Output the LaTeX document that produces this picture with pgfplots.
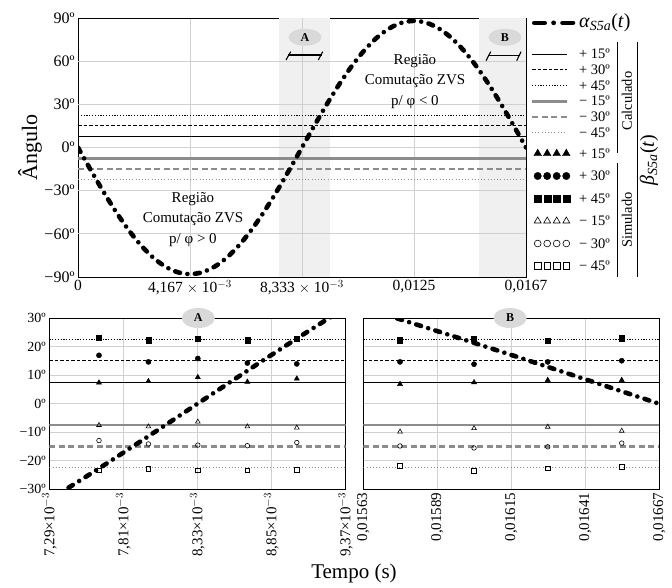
\documentclass[border=0pt]{standalone}
\usepackage{pgfplots}
\usepackage{pgfplotstable}
\pgfplotsset{compat=1.18}
\usetikzlibrary{shapes.geometric}
\usepackage{fontspec}
\setmainfont{Liberation Serif}

\definecolor{gridc}{RGB}{208,208,208}
\definecolor{shadec}{RGB}{240,240,240}
\definecolor{lgray}{RGB}{140,140,140}
\definecolor{ellc}{RGB}{217,217,217}

\pgfplotstableread{
t a
0 0
0.000463 -15.28
0.000926 -30.10
0.001389 -44.00
0.001852 -56.57
0.002315 -67.41
0.002778 -76.21
0.003241 -82.69
0.003704 -86.66
0.004167 -88.00
0.004630 -86.66
0.005093 -82.69
0.005556 -76.21
0.006019 -67.41
0.006481 -56.57
0.006944 -44.00
0.007407 -30.10
0.007870 -15.28
0.008333 0
0.008796 15.28
0.009259 30.10
0.009722 44.00
0.010185 56.57
0.010648 67.41
0.011111 76.21
0.011574 82.69
0.012037 86.66
0.012500 88.00
0.012963 86.66
0.013426 82.69
0.013889 76.21
0.014352 67.41
0.014815 56.57
0.015278 44.00
0.015741 30.10
0.016204 15.28
0.016667 0
}\alphamain

\pgfplotstableread{
t a
0.006944 -44.00
0.007176 -37.19
0.007407 -30.10
0.007639 -22.78
0.007870 -15.28
0.008102 -7.67
0.008333 0
0.008565 7.67
0.008796 15.28
0.009028 22.78
0.009259 30.10
0.009491 37.19
0.009722 44.00
}\alphaA

\pgfplotstableread{
t a
0.015278 44.00
0.015509 37.19
0.015741 30.10
0.015972 22.78
0.016204 15.28
0.016435 7.67
0.016667 0
}\alphaB

\pgfplotstableread{
t p15 p30 p45 m15 m30 m45
0.007639 7.3 16.9 23.0 -7.6 -13.0 -23.5
0.007986 7.8 14.6 22.2 -8.1 -14.2 -23.0
0.008333 9.2 15.8 22.6 -6.4 -14.6 -23.4
0.008681 7.6 14.2 22.2 -8.1 -14.8 -23.4
0.009028 8.7 13.9 22.6 -8.5 -13.7 -23.2
}\simA

\pgfplotstableread{
t p15 p30 p45 m15 m30 m45
0.015759 6.8 14.6 22.2 -9.9 -14.9 -21.9
0.016019 7.4 13.8 22.6 -8.7 -15.6 -23.6
0.016278 8.2 14.6 22.1 -8.2 -15.2 -22.7
0.016538 8.2 15.0 22.9 -9.6 -13.9 -22.2
}\simB

\pgfplotsset{
  alphast/.style={black, line width=4.6pt, line cap=round, dash pattern=on 5pt off 7.5pt on 0pt off 7.5pt},
  cpA/.style={black, line width=1.1pt},
  cpB/.style={black, line width=1.1pt, dash pattern=on 3.5pt off 2pt},
  cpC/.style={black, line width=1.1pt, dash pattern=on 1.2pt off 1.6pt},
  cmA/.style={lgray, line width=2.6pt},
  cmB/.style={lgray, line width=2.6pt, dash pattern=on 6pt off 3.5pt},
  cmC/.style={lgray, line width=0.8pt, dash pattern=on 1pt off 2.2pt},
  sp15/.style={only marks, mark=triangle*, mark size=3pt, mark options={solid, fill=black, draw=black, line width=0.4pt}},
  sp30/.style={only marks, mark=*, mark size=2.6pt, mark options={solid, fill=black, draw=black, line width=0.4pt}},
  sp45/.style={only marks, mark=square*, mark size=2.6pt, mark options={solid, fill=black, draw=black, line width=0.4pt}},
  sm15/.style={only marks, mark=triangle, mark size=2.7pt, mark options={solid, fill=white, draw=black, line width=0.6pt}},
  sm30/.style={only marks, mark=o, mark size=2.3pt, mark options={solid, fill=white, draw=black, line width=0.6pt}},
  sm45/.style={only marks, mark=square, mark size=2.3pt, mark options={solid, fill=white, draw=black, line width=0.6pt}},
  blankimg/.style={legend image code/.code={\path[draw=none, fill=none] (0pt,-1pt) rectangle (35pt,1pt);}},
  lineimg/.style={legend image code/.code={\path[draw=none, fill=none] (0pt,-1pt) rectangle (35pt,1pt); \draw[##1, overlay] (0pt,0pt) -- (35pt,0pt);}},
  markimg/.style={legend image code/.code={\path[draw=none, fill=none] (0pt,-1pt) rectangle (35pt,1pt); \draw[##1, overlay, draw=none] plot coordinates {(5.7pt,0pt) (15.2pt,0pt) (24.7pt,0pt) (34.3pt,0pt)};}},
  alphaimg/.style={legend image code/.code={\path[draw=none, fill=none] (0pt,-1pt) rectangle (35pt,1pt);
      \draw[black, line width=4.6pt, line cap=round, overlay] (2.3pt,0pt) -- (12.7pt,0pt);
      \fill[black, draw=none, overlay] (21.6pt,0pt) circle (2.4pt);
      \draw[black, line width=4.6pt, line cap=round, overlay] (30.5pt,0pt) -- (41pt,0pt);}},
  common/.style={
    scale only axis,
    grid=major, major grid style={gridc, line width=0.8pt},
    major tick length=0pt,
    axis line style={black, line width=0.9pt},
    scaled x ticks=false, scaled y ticks=false,
  },
}

\begin{document}
\begin{tikzpicture}
\useasboundingbox (0pt,0pt) rectangle (672pt,587pt);

% ===== main axis =====
\begin{axis}[common,
  at={(78pt,310pt)}, anchor=south west,
  width=448pt, height=259pt,
  xmin=0, xmax=0.016667, ymin=-90, ymax=90,
  xtick={0,0.0041667,0.0083333,0.0125,0.016667},
  xticklabels={0,{4,167 $\times$ 10$^{-3}$},{8,333 $\times$ 10$^{-3}$},{0,0125},{0,0167}},
  ytick={-90,-60,...,90},
  yticklabels={−90º,−60º,−30º,0º,30º,60º,90º},
  xticklabel style={font=\fontsize{15.5}{15.5}\selectfont},
  yticklabel style={font=\fontsize{16}{16}\selectfont},
  ylabel={Ângulo},
  ylabel style={at={(axis description cs:-0.107,0.5)}, anchor=center, font=\fontsize{22}{22}\selectfont},
  legend style={at={(axis description cs:1.01339,1.01157)}, anchor=north west, draw=none, fill=none,
    inner sep=0pt, outer sep=0pt, column sep=12pt, row sep=0pt,
    nodes={inner sep=0pt, text height=12.5pt, text depth=3.2pt, font=\fontsize{14.5}{14.5}\selectfont}},
  legend cell align=left,
]
\addplot[fill=shadec, draw=none, forget plot] coordinates {(0.007489,-90) (0.009375,-90) (0.009375,90) (0.007489,90)} -- cycle;
\addplot[fill=shadec, draw=none, forget plot] coordinates {(0.014930,-90) (0.016667,-90) (0.016667,90) (0.014930,90)} -- cycle;
% grid lines redrawn over the shading
\addplot[gridc, line width=0.8pt, forget plot] coordinates {(0.0083333,-90) (0.0083333,90)};
\addplot[gridc, line width=0.8pt, forget plot] coordinates {(0,60) (0.016667,60)};
\addplot[gridc, line width=0.8pt, forget plot] coordinates {(0,30) (0.016667,30)};
\addplot[gridc, line width=0.8pt, forget plot] coordinates {(0,0) (0.016667,0)};
\addplot[gridc, line width=0.8pt, forget plot] coordinates {(0,-30) (0.016667,-30)};
\addplot[gridc, line width=0.8pt, forget plot] coordinates {(0,-60) (0.016667,-60)};
\addplot[cpC, forget plot] coordinates {(0,22.5) (0.016667,22.5)};
\addplot[cpB, forget plot] coordinates {(0,15) (0.016667,15)};
\addplot[cpA, forget plot] coordinates {(0,7.5) (0.016667,7.5)};
\addplot[cmA, forget plot] coordinates {(0,-7.5) (0.016667,-7.5)};
\addplot[cmB, forget plot] coordinates {(0,-15) (0.016667,-15)};
\addplot[cmC, forget plot] coordinates {(0,-22.5) (0.016667,-22.5)};
\addplot[alphast, smooth, forget plot] table[x=t, y=a] {\alphamain};

\node[align=center, font=\fontsize{15}{20.5}\selectfont] at (axis cs:0.004278,-50) {Região\\Comutação ZVS\\p/ φ > 0};
\node[align=center, font=\fontsize{15}{20.5}\selectfont] at (axis cs:0.012537,46) {Região\\Comutação ZVS\\p/ φ < 0};
\node[ellipse, fill=ellc, minimum width=33pt, minimum height=17pt, inner sep=0pt, font=\bfseries\fontsize{12}{12}\selectfont] at (axis cs:0.008445,76.6) {A};
\node[ellipse, fill=ellc, minimum width=33pt, minimum height=17pt, inner sep=0pt, font=\bfseries\fontsize{12}{12}\selectfont] at (axis cs:0.015885,76.6) {B};

\addlegendimage{alphaimg}
\addlegendentry{\fontsize{20}{20}\selectfont\textit{α}\textsubscript{\textit{S5a}}(\textit{t})}
\addlegendimage{blankimg}
\addlegendentry{\phantom{x}}
\addlegendimage{cpA, lineimg}\addlegendentry{+ 15º}
\addlegendimage{cpB, lineimg}\addlegendentry{+ 30º}
\addlegendimage{cpC, lineimg}\addlegendentry{+ 45º}
\addlegendimage{cmA, lineimg}\addlegendentry{− 15º}
\addlegendimage{cmB, lineimg}\addlegendentry{− 30º}
\addlegendimage{cmC, lineimg}\addlegendentry{− 45º}
\end{axis}

% ===== inset A =====
\begin{axis}[common,
  at={(49.3pt,98pt)}, anchor=south west,
  width=296.2pt, height=171pt,
  xmin=0.00729, xmax=0.00937, ymin=-30, ymax=30,
  xtick={0.00729,0.00781,0.00833,0.00885,0.00937},
  xticklabels={{7,29×10$^{-3}$},{7,81×10$^{-3}$},{8,33×10$^{-3}$},{8,85×10$^{-3}$},{9,37×10$^{-3}$}},
  xticklabel style={rotate=90, anchor=east, font=\fontsize{15}{15}\selectfont},
  ytick={-30,-20,...,30},
  yticklabels={−30º,−20º,−10º,0º,10º,20º,30º},
  yticklabel style={font=\fontsize{14}{14}\selectfont},
]
\addplot[cpC, forget plot] coordinates {(0.00729,22.5) (0.00937,22.5)};
\addplot[cpB, forget plot] coordinates {(0.00729,15) (0.00937,15)};
\addplot[cpA, forget plot] coordinates {(0.00729,7.5) (0.00937,7.5)};
\addplot[cmA, forget plot] coordinates {(0.00729,-7.5) (0.00937,-7.5)};
\addplot[cmB, forget plot] coordinates {(0.00729,-15) (0.00937,-15)};
\addplot[cmC, forget plot] coordinates {(0.00729,-22.5) (0.00937,-22.5)};
\addplot[sp15, forget plot] table[x=t, y=p15] {\simA};
\addplot[sp30, forget plot] table[x=t, y=p30] {\simA};
\addplot[sp45, forget plot] table[x=t, y=p45] {\simA};
\addplot[sm15, forget plot] table[x=t, y=m15] {\simA};
\addplot[sm30, forget plot] table[x=t, y=m30] {\simA};
\addplot[sm45, forget plot] table[x=t, y=m45] {\simA};
\addplot[alphast, smooth, forget plot] table[x=t, y=a] {\alphaA};
\end{axis}

% ===== inset B =====
\begin{axis}[common,
  at={(363.3pt,98pt)}, anchor=south west,
  width=296pt, height=171pt,
  xmin=0.01563, xmax=0.01667, ymin=-30, ymax=30,
  xtick={0.01563,0.01589,0.01615,0.01641,0.01667},
  xticklabels={{0,01563},{0,01589},{0,01615},{0,01641},{0,01667}},
  xticklabel style={rotate=90, anchor=east, font=\fontsize{15}{15}\selectfont},
  ytick={-30,-20,...,30},
  yticklabels={},
  legend style={at={(axis description cs:0.56993,2.00789)}, anchor=north west, draw=none, fill=none,
    inner sep=0pt, outer sep=0pt, column sep=12pt, row sep=6.8pt,
    nodes={inner sep=0pt, text height=12.5pt, text depth=3.2pt, font=\fontsize{14.5}{14.5}\selectfont}},
  legend cell align=left,
]
\addplot[cpC, forget plot] coordinates {(0.01563,22.5) (0.01667,22.5)};
\addplot[cpB, forget plot] coordinates {(0.01563,15) (0.01667,15)};
\addplot[cpA, forget plot] coordinates {(0.01563,7.5) (0.01667,7.5)};
\addplot[cmA, forget plot] coordinates {(0.01563,-7.5) (0.01667,-7.5)};
\addplot[cmB, forget plot] coordinates {(0.01563,-15) (0.01667,-15)};
\addplot[cmC, forget plot] coordinates {(0.01563,-22.5) (0.01667,-22.5)};
\addplot[sp15, forget plot] table[x=t, y=p15] {\simB};
\addplot[sp30, forget plot] table[x=t, y=p30] {\simB};
\addplot[sp45, forget plot] table[x=t, y=p45] {\simB};
\addplot[sm15, forget plot] table[x=t, y=m15] {\simB};
\addplot[sm30, forget plot] table[x=t, y=m30] {\simB};
\addplot[sm45, forget plot] table[x=t, y=m45] {\simB};
\addplot[alphast, smooth, forget plot] table[x=t, y=a] {\alphaB};

\addlegendimage{sp15, mark size=4.4pt, markimg}\addlegendentry{+ 15º}
\addlegendimage{sp30, mark size=3.7pt, markimg}\addlegendentry{+ 30º}
\addlegendimage{sp45, mark size=3.5pt, markimg}\addlegendentry{+ 45º}
\addlegendimage{sm15, mark size=4.0pt, markimg}\addlegendentry{− 15º}
\addlegendimage{sm30, mark size=3.4pt, markimg}\addlegendentry{− 30º}
\addlegendimage{sm45, mark size=3.3pt, markimg}\addlegendentry{− 45º}
\end{axis}

% ===== decorations =====
\node[ellipse, fill=ellc, minimum width=33pt, minimum height=20pt, inner sep=0pt, font=\bfseries\fontsize{12}{12}\selectfont] at (198.3pt,269pt) {A};
\node[ellipse, fill=ellc, minimum width=33pt, minimum height=20pt, inner sep=0pt, font=\bfseries\fontsize{12}{12}\selectfont] at (510pt,269pt) {B};

\draw[black, line width=1.1pt] (288.3pt,532pt) -- (321.7pt,532pt);
\draw[black, line width=1.1pt] (286pt,527pt) -- (290.7pt,535.3pt);
\draw[black, line width=1.1pt] (318.3pt,527pt) -- (322.7pt,535.3pt);
\draw[black, line width=1.1pt] (489pt,531.3pt) -- (520pt,531.3pt);
\draw[black, line width=1.1pt] (486pt,526.3pt) -- (490.7pt,535.3pt);
\draw[black, line width=1.1pt] (516.7pt,526.3pt) -- (521pt,535.3pt);

\draw[black, line width=0.9pt] (617pt,545pt) -- (617pt,434pt);
\draw[black, line width=0.9pt] (617pt,424pt) -- (617pt,310pt);
\draw[black, line width=0.9pt] (637pt,545pt) -- (637pt,310pt);
\node[rotate=90, font=\fontsize{14.5}{14.5}\selectfont] at (627pt,486pt) {Calculado};
\node[rotate=90, font=\fontsize{14.5}{14.5}\selectfont] at (627pt,367pt) {Simulado};
\node[rotate=90, font=\fontsize{20}{20}\selectfont] at (649pt,427pt) {\textit{β}\textsubscript{\textit{S5a}}(\textit{t})};

\node[font=\fontsize{21}{21}\selectfont] at (354pt,14pt) {Tempo (s)};
\end{tikzpicture}
\end{document}
